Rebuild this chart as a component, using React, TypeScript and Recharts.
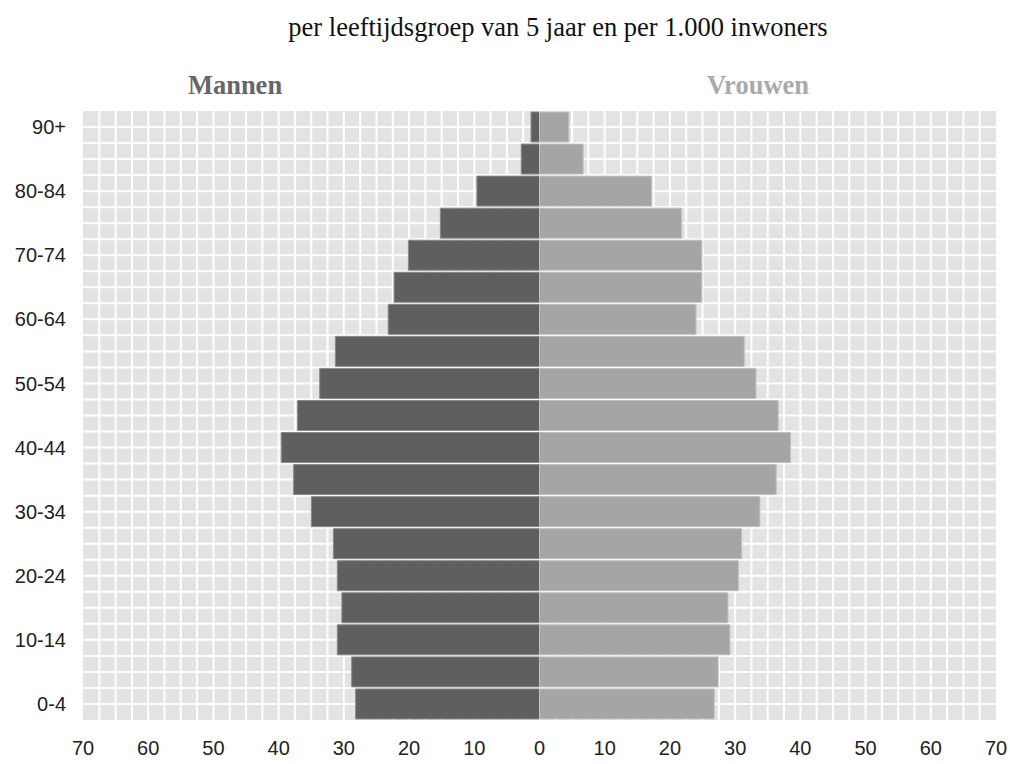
import { BarChart, Bar, XAxis, YAxis, CartesianGrid } from 'recharts'

// age groups from young to old (Y axis is reversed so 90+ ends up on top)
const AGE_GROUPS = [
  '0-4', '5-9', '10-14', '15-19', '20-24', '25-29', '30-34', '35-39', '40-44', '45-49',
  '50-54', '55-59', '60-64', '65-69', '70-74', '75-79', '80-84', '85-89', '90+',
]

// per 1.000 inwoners
const MANNEN = [28.2, 28.8, 31.0, 30.3, 31.0, 31.6, 35.0, 37.7, 39.6, 37.1, 33.7, 31.3, 23.2, 22.3, 20.1, 15.2, 9.6, 2.8, 1.3]
const VROUWEN = [26.8, 27.4, 29.2, 28.9, 30.5, 31.0, 33.8, 36.3, 38.5, 36.6, 33.2, 31.4, 24.0, 24.9, 24.9, 21.8, 17.2, 6.7, 4.5]

const X_TICKS = [-70, -60, -50, -40, -30, -20, -10, 0, 10, 20, 30, 40, 50, 60, 70]
const GRID_STEP = 2.5

const data = AGE_GROUPS.map((age, i) => ({
  age,
  man: -MANNEN[i],
  vrouw: VROUWEN[i],
}))

const tickStyle = { fontFamily: 'Liberation Sans, Arial, sans-serif', fontSize: 20, fill: '#222' }
const headStyle = { position: 'absolute' as const, top: 85, transform: 'translate(-50%, -50%)', fontFamily: 'Liberation Serif, serif', fontWeight: 'bold', fontSize: 26.5 }

export default function App() {
  const gridCount = (X_TICKS[X_TICKS.length - 1] - X_TICKS[0]) / GRID_STEP
  return (
    <div style={{ position: 'absolute', left: 0, top: 0, width: 1010, height: 764, background: '#fff' }}>
      <div style={{ position: 'absolute', left: 558, top: 27, transform: 'translate(-50%, -50%)', whiteSpace: 'nowrap', fontFamily: 'Liberation Serif, serif', fontSize: 26.5, color: '#111' }}>
        per leeftijdsgroep van 5 jaar en per 1.000 inwoners
      </div>
      <div style={{ ...headStyle, left: 235, color: '#666' }}>Mannen</div>
      <div style={{ ...headStyle, left: 758, color: '#aaa' }}>Vrouwen</div>
      <BarChart
        width={1010}
        height={764}
        data={data}
        layout="vertical"
        stackOffset="sign"
        barCategoryGap={1}
        margin={{ top: 111, right: 14, left: 0, bottom: 14 }}
      >
        <CartesianGrid
          fill="#e3e3e3"
          fillOpacity={1}
          stroke="#ffffff"
          strokeWidth={2}
          verticalCoordinatesGenerator={({ offset }: any) =>
            Array.from({ length: gridCount - 1 }, (_, k) => offset.left + ((k + 1) * offset.width) / gridCount)
          }
          horizontalCoordinatesGenerator={({ offset }: any) =>
            Array.from({ length: AGE_GROUPS.length * 2 - 1 }, (_, k) => offset.top + ((k + 1) * offset.height) / (AGE_GROUPS.length * 2))
          }
        />
        <XAxis
          type="number"
          domain={[X_TICKS[0], X_TICKS[X_TICKS.length - 1]]}
          ticks={X_TICKS}
          tickFormatter={(v: number) => String(Math.abs(v))}
          axisLine={false}
          tickLine={false}
          tickMargin={15}
          height={30}
          tick={tickStyle}
          interval={0}
        />
        <YAxis
          type="category"
          dataKey="age"
          reversed
          width={83}
          interval={1}
          axisLine={false}
          tickLine={false}
          tickMargin={11}
          tick={tickStyle}
        />
        <Bar dataKey="man" stackId="s" fill="#5f5f5f" stroke="#8a8a8a" strokeWidth={1} isAnimationActive={false} />
        <Bar dataKey="vrouw" stackId="s" fill="#a5a5a5" stroke="#c2c2c2" strokeWidth={1} isAnimationActive={false} />
      </BarChart>
    </div>
  )
}
